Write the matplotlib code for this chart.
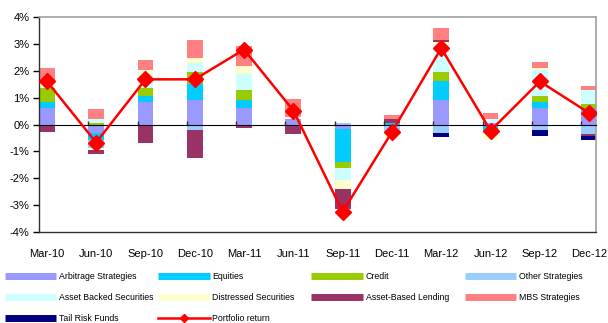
import numpy as np
import matplotlib
matplotlib.use("Agg")
import matplotlib.pyplot as plt
from matplotlib.lines import Line2D
from matplotlib.ticker import FuncFormatter

plt.rcParams['font.family'] = ['Liberation Sans', 'DejaVu Sans']

categories = ["Mar-10", "Jun-10", "Sep-10", "Dec-10", "Mar-11", "Jun-11",
              "Sep-11", "Dec-11", "Mar-12", "Jun-12", "Sep-12", "Dec-12"]

arbitrage = [0.63, -0.30, 0.85, 0.93, 0.63, 0.22, -0.15, -0.05, 0.93, 0.07, 0.63, 0.52]
equities = [0.22, -0.27, 0.22, 0.59, 0.30, 0.00, -1.26, 0.07, 0.67, -0.25, 0.22, 0.11]
credit = [0.52, 0.07, 0.30, 0.45, 0.37, 0.00, -0.22, 0.00, 0.37, 0.00, 0.22, 0.15]
other = [0.00, -0.32, -0.07, -0.22, 0.00, -0.06, 0.07, -0.25, -0.30, 0.00, -0.22, -0.37]
asset_backed = [0.05, 0.15, 0.50, 0.30, 0.59, 0.00, -0.45, 0.00, 0.97, 0.15, 0.97, 0.52]
distressed = [0.15, -0.06, 0.15, 0.22, 0.30, 0.07, -0.33, -0.20, 0.12, -0.32, 0.07, 0.00]
asset_lending = [-0.29, -0.13, -0.60, -1.04, -0.14, -0.31, -0.72, 0.15, 0.09, 0.00, 0.00, -0.07]
mbs = [0.55, 0.37, 0.38, 0.67, 0.74, 0.67, 0.00, 0.15, 0.45, 0.22, 0.22, 0.15]
tail_risk = [0.00, 0.00, 0.00, 0.00, 0.00, 0.00, 0.00, 0.00, -0.15, 0.00, -0.22, -0.15]
portfolio = [1.61, -0.67, 1.68, 1.68, 2.79, 0.52, -3.25, -0.28, 2.84, -0.23, 1.60, 0.43]

series_names = ["Arbitrage Strategies", "Equities", "Credit", "Other Strategies",
                "Asset Backed Securities", "Distressed Securities",
                "Asset-Based Lending", "MBS Strategies", "Tail Risk Funds"]
series_values = [arbitrage, equities, credit, other, asset_backed, distressed,
                 asset_lending, mbs, tail_risk]
series_colors = ["#9999FF", "#00CCFF", "#99CC00", "#99CCFF", "#CCFFFF",
                 "#FFFFCC", "#993366", "#FF8080", "#000080"]
line_name = "Portfolio return"

fig = plt.figure(figsize=(6.08, 3.23), dpi=100)
ax = fig.add_axes([0.0641, 0.2817, 0.9162, 0.6657])

x = np.arange(len(categories))
width = 0.32
pos_base = np.zeros(len(categories))
neg_base = np.zeros(len(categories))
for vals, col in zip(series_values, series_colors):
    v = np.array(vals)
    pos = np.where(v > 0, v, 0)
    neg = np.where(v < 0, v, 0)
    ax.bar(x, pos, width, bottom=pos_base, color=col, align='edge', linewidth=0, zorder=2)
    ax.bar(x, neg, width, bottom=neg_base, color=col, align='edge', linewidth=0, zorder=2)
    pos_base += pos
    neg_base += neg

ax.plot(x + width / 2, portfolio, color="#FF0000", linewidth=1.8, marker='D',
        markersize=8, zorder=4)

ax.set_xlim(0, 11.3)
ax.set_ylim(-4, 4)
ax.set_yticks(np.arange(-4, 5, 1))
ax.yaxis.set_major_formatter(FuncFormatter(lambda v, p: f"{int(round(v))}%"))
ax.tick_params(axis='y', direction='out', length=4, width=1, colors='#000000',
               labelsize=8, pad=3)
ax.set_xticks(x + width / 2)
ax.set_xticklabels(categories, fontsize=8)
ax.tick_params(axis='x', length=0, pad=12)

for s in ['top', 'right']:
    ax.spines[s].set_color('#A0A0A0')
    ax.spines[s].set_linewidth(1.2)
ax.spines['left'].set_color('#303030')
ax.spines['bottom'].set_color('#303030')
ax.spines['left'].set_linewidth(1)
ax.spines['bottom'].set_linewidth(1)

zero_axis = ax.secondary_xaxis(0.5)
zero_axis.set_xticks(x[1:])
zero_axis.set_xticklabels([])
zero_axis.tick_params(direction='out', length=3, width=1, colors='#303030')
zero_axis.spines['bottom'].set_color('#303030')
zero_axis.spines['bottom'].set_linewidth(1)
zero_axis.set_zorder(3)

handles = [Line2D([0], [0], color=c, linewidth=5, solid_capstyle='butt') for c in series_colors]
handles.append(Line2D([0], [0], color="#FF0000", linewidth=1.8, marker='D', markersize=4))
labels = series_names + [line_name]

columns = [[0, 4, 8], [1, 5, 9], [2, 6], [3, 7]]
col_x = [0.008, 0.260, 0.512, 0.764]
for cx, idxs in zip(col_x, columns):
    fig.legend([handles[i] for i in idxs], [labels[i] for i in idxs],
               loc='upper left', bbox_to_anchor=(cx, 0.158), frameon=False,
               fontsize=6.3, handlelength=5.9, handletextpad=0.3,
               labelspacing=1.35, borderaxespad=0, borderpad=0)

fig.savefig("out.png", dpi=100)
